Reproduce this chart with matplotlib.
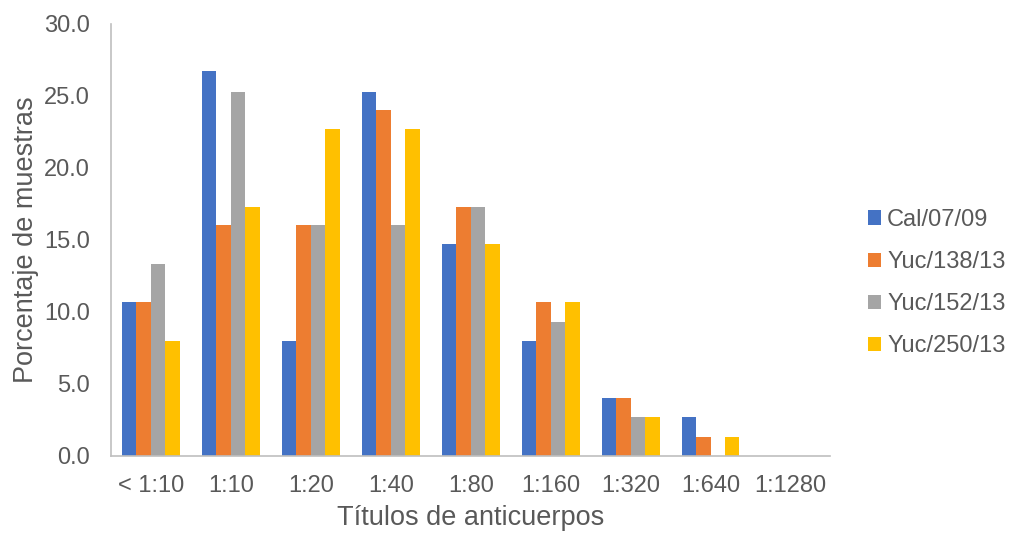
import matplotlib.pyplot as plt
import numpy as np

plt.rcParams['font.family'] = ['Liberation Sans', 'DejaVu Sans']

categories = ["< 1:10", "1:10", "1:20", "1:40", "1:80", "1:160", "1:320", "1:640", "1:1280"]
series_names = ["Cal/07/09", "Yuc/138/13", "Yuc/152/13", "Yuc/250/13"]
cal_07_09 = [10.7, 26.7, 8.0, 25.3, 14.7, 8.0, 4.0, 2.7, 0]
yuc_138_13 = [10.7, 16.0, 16.0, 24.0, 17.3, 10.7, 4.0, 1.3, 0]
yuc_152_13 = [13.3, 25.3, 16.0, 16.0, 17.3, 9.3, 2.7, 0, 0]
yuc_250_13 = [8.0, 17.3, 22.7, 22.7, 14.7, 10.7, 2.7, 1.3, 0]
colors = ["#4472C4", "#ED7D31", "#A5A5A5", "#FFC000"]
text_color = "#595959"

fig = plt.figure(figsize=(10.09, 5.33), dpi=100)
ax = fig.add_axes([0.110, 0.145, 0.713, 0.810])

x = np.arange(len(categories))
w = 0.181
for i, vals in enumerate([cal_07_09, yuc_138_13, yuc_152_13, yuc_250_13]):
    ax.bar(x + (i - 1.5) * w, vals, width=w, color=colors[i], label=series_names[i])

ax.set_xlim(-0.5, len(categories) - 0.5)
ax.set_ylim(0, 30)
ax.set_yticks(np.arange(0, 30.1, 5))
ax.set_yticklabels([f"{v:.1f}" for v in np.arange(0, 30.1, 5)])
ax.set_xticks(x)
ax.set_xticklabels(categories)
ax.tick_params(axis="both", length=0, labelsize=17, colors=text_color)
ax.tick_params(axis="x", pad=14)
ax.tick_params(axis="y", pad=15)

for s in ["top", "right"]:
    ax.spines[s].set_visible(False)
for s in ["left", "bottom"]:
    ax.spines[s].set_color("#BFBFBF")
    ax.spines[s].set_linewidth(1.2)

ax.set_xlabel("Títulos de anticuerpos", fontsize=19.5, color=text_color, labelpad=6)
ax.set_ylabel("Porcentaje de muestras", fontsize=19.5, color=text_color, labelpad=4)

leg = ax.legend(loc="center left", bbox_to_anchor=(1.023, 0.40), frameon=False,
                fontsize=17, handlelength=0.55, handleheight=0.55, handletextpad=0.25,
                labelspacing=0.85, labelcolor=text_color)

plt.savefig("out.png", dpi=100)
